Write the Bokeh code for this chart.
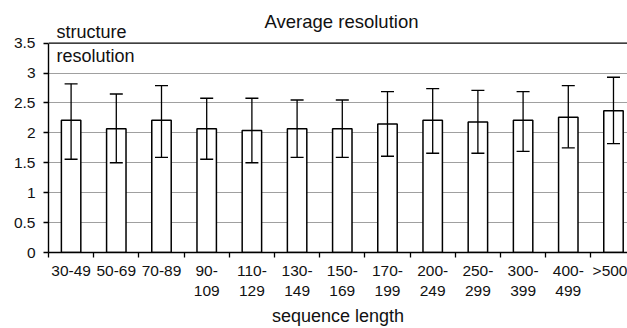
from bokeh.plotting import figure
from bokeh.models import (Range1d, LinearAxis, FixedTicker, ColumnDataSource,
                          Whisker, TeeHead, Label, Span)
from bokeh.embed import file_html
from bokeh.resources import INLINE

# ---- data ----
categories = ["30-49", "50-69", "70-89", "90-109", "110-129", "130-149",
              "150-169", "170-199", "200-249", "250-299", "300-399",
              "400-499", ">500"]
mean_resolution = [2.21, 2.07, 2.21, 2.07, 2.04, 2.07, 2.07, 2.15, 2.21,
                   2.18, 2.21, 2.26, 2.37]
err_upper = [2.82, 2.65, 2.79, 2.58, 2.58, 2.55, 2.55, 2.69, 2.74, 2.71,
             2.69, 2.79, 2.93]
err_lower = [1.56, 1.50, 1.59, 1.56, 1.50, 1.59, 1.59, 1.61, 1.66, 1.66,
             1.69, 1.75, 1.82]
y_ticks = [0, 0.5, 1, 1.5, 2, 2.5, 3, 3.5]
y_tick_labels = ["0", "0.5", "1", "1.5", "2", "2.5", "3", "3.5"]
y_max = 3.5

FONT = "Liberation Sans"
n = len(categories)
xs = [i + 0.5 for i in range(n)]

# layout (pixels)
FRAME_H = 254          # frame runs from the canvas top to the x axis
PX_PER_UNIT = 211 / y_max
BASE_FIX = 4           # alphabetic baseline correction


def wrap(label):
    # long ranges wrap after the hyphen, as in the original chart
    if len(label) > 5 and "-" in label:
        a, b = label.split("-", 1)
        return a + "-\n" + b
    return label


src = ColumnDataSource(dict(x=xs, mean=mean_resolution,
                            upper=err_upper, lower=err_lower))

p = figure(width=627, height=328, output_backend="svg", toolbar_location=None,
           x_range=Range1d(0, 12.81),
           y_range=Range1d(0, FRAME_H / PX_PER_UNIT),
           x_axis_type=None, min_border_left=48, min_border_right=0,
           min_border_top=0, min_border_bottom=328 - FRAME_H)
p.outline_line_color = None
p.background_fill_color = "white"
p.border_fill_color = "white"

# y axis
yax = p.yaxis[0]
yax.bounds = (0, y_max)
yax.ticker = FixedTicker(ticks=y_ticks)
yax.major_label_overrides = {t: l for t, l in zip(y_ticks, y_tick_labels)}
yax.axis_line_color = "black"
yax.axis_line_width = 1.4
yax.major_tick_line_color = "black"
yax.major_tick_line_width = 1.3
yax.major_tick_in = 0
yax.major_tick_out = 5
yax.minor_tick_line_color = None
yax.major_label_standoff = 8
yax.major_label_text_font = FONT
yax.major_label_text_font_size = "15.5px"
yax.major_label_text_color = "#111111"

p.ygrid.ticker = FixedTicker(ticks=y_ticks[1:-1])
p.ygrid.grid_line_color = "#a0a0a0"
p.ygrid.grid_line_width = 1

# top border of the plot area at the axis maximum
p.add_layout(Span(location=y_max, dimension="width", line_color="black",
                  line_width=1.4))

# bottom axis: tick marks on category boundaries
tick_ax = LinearAxis(ticker=FixedTicker(ticks=list(range(n))),
                     axis_line_color="black", axis_line_width=1.4,
                     major_tick_line_color="black", major_tick_line_width=1.3,
                     major_tick_in=0, major_tick_out=5,
                     minor_tick_line_color=None, major_label_standoff=0,
                     major_label_text_font_size="0px",
                     major_label_overrides={i: "" for i in range(n)})
p.add_layout(tick_ax, "below")

# bottom axis: category labels centred in each slot
lab_ax = LinearAxis(ticker=FixedTicker(ticks=xs),
                    major_label_overrides={x: wrap(c) for x, c in zip(xs, categories)},
                    axis_line_color=None, major_tick_line_color=None,
                    major_tick_in=0, major_tick_out=0,
                    minor_tick_line_color=None, major_label_standoff=4,
                    major_label_text_font=FONT,
                    major_label_text_font_size="15.5px",
                    major_label_text_color="#111111",
                    axis_label="sequence length",
                    axis_label_text_font=FONT,
                    axis_label_text_font_size="18px",
                    axis_label_text_font_style="normal",
                    axis_label_text_color="#111111",
                    axis_label_standoff=4)
p.add_layout(lab_ax, "below")

p.vbar(x="x", top="mean", bottom=0, width=0.43, source=src,
       fill_color="white", line_color="black", line_width=1.5)

wh = Whisker(base="x", upper="upper", lower="lower", source=src,
             line_color="black", line_width=1.3, level="overlay",
             upper_head=TeeHead(size=13, line_color="black", line_width=1.4),
             lower_head=TeeHead(size=13, line_color="black", line_width=1.4))
p.add_layout(wh)

# texts (screen units are measured from the frame's lower-left corner)
for txt, sx, base_y, align, size in (
        ("Average resolution", 293, 27, "center", "18.5px"),
        ("structure", 8, 37, "left", "18px"),
        ("resolution", 8, 61, "left", "18px")):
    p.add_layout(Label(x=sx, y=FRAME_H - base_y + BASE_FIX,
                       x_units="screen", y_units="screen",
                       text=txt, text_font=FONT, text_font_size=size,
                       text_align=align, text_baseline="alphabetic",
                       text_color="#111111"))

open("out.html", "w").write(file_html(p, INLINE))
